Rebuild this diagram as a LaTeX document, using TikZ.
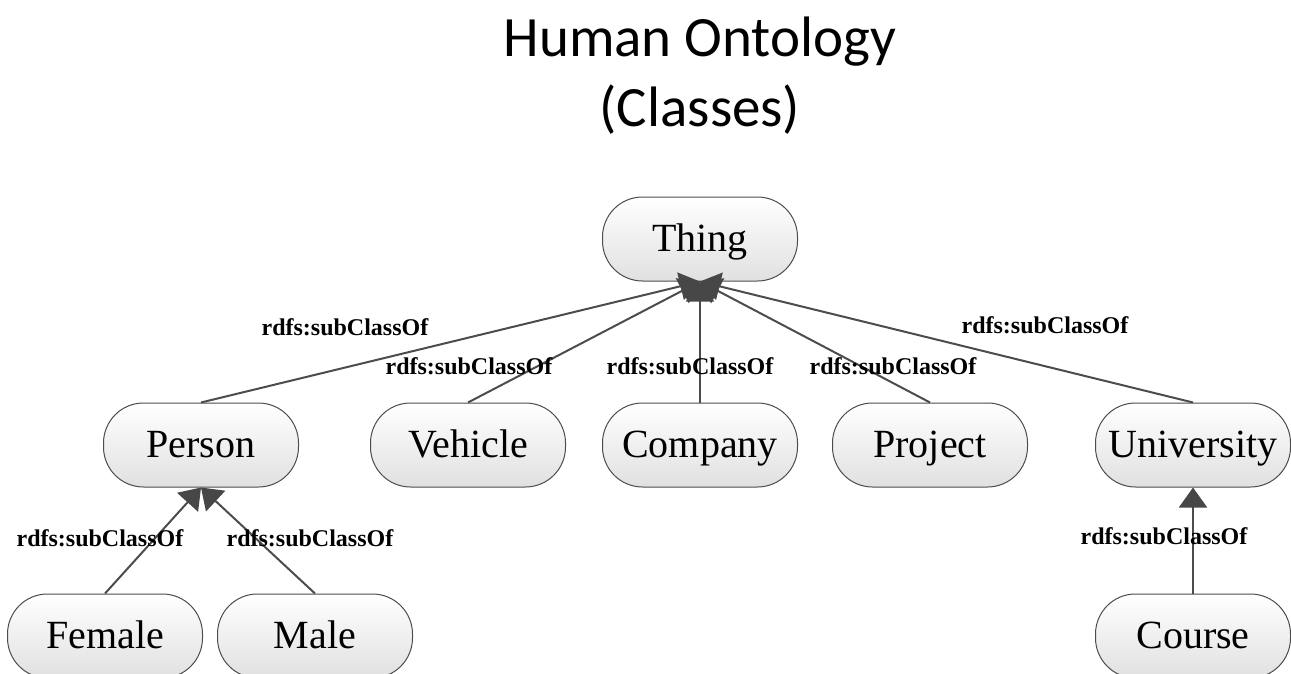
\documentclass[tikz,border=0pt]{standalone}
\usepackage{fontspec}
\setmainfont{Liberation Serif}
\newfontfamily\titlefont{Carlito}
\usetikzlibrary{arrows.meta}

\tikzset{
  cls/.style={draw=black!70, line width=1pt, rounded corners=40pt,
    top color=white, bottom color=black!12, minimum width=195pt,
    minimum height=84pt, inner sep=0pt, text height=30pt, text depth=6pt,
    font=\fontsize{40}{46}\selectfont},
  sub/.style={draw=black!70, line width=2pt,
    -{Triangle[length=20pt,width=28pt,fill=black!72,color=black!72]}},
  lbl/.style={font=\bfseries\fontsize{24}{28}\selectfont, inner sep=0pt}
}

\begin{document}
\begin{tikzpicture}[x=1pt,y=-1pt]
\useasboundingbox (0,0) rectangle (1291,674);
\clip (0,0) rectangle (1291,674);

% title
\node[font=\titlefont\fontsize{57}{70}\selectfont, align=center, anchor=north]
  (title) at (700,13) {Human Ontology\\(Classes)};

% classes
\node[cls] (thing)   at (700,239) {Thing};
\node[cls] (person)  at (201,445) {Person};
\node[cls] (vehicle) at (468,445) {Vehicle};
\node[cls] (company) at (700,445) {Company};
\node[cls] (project) at (930,445) {Project};
\node[cls] (univ)    at (1193,445) {University};
\node[cls] (female)  at (105,636) {Female};
\node[cls] (male)    at (315,636) {Male};
\node[cls] (course)  at (1193,636) {Course};

% subclass links
\draw[sub] (person.north)  -- (thing.south);
\draw[sub] (vehicle.north) -- (thing.south);
\draw[sub] (company.north) -- (thing.south);
\draw[sub] (project.north) -- (thing.south);
\draw[sub] (univ.north)    -- (thing.south);
\draw[sub] (female.north)  -- (person.south);
\draw[sub] (male.north)    -- (person.south);
\draw[sub] (course.north)  -- (univ.south);

% link labels
\node[lbl] (l1) at (345,327) {rdfs:subClassOf};
\node[lbl] (l2) at (469,366) {rdfs:subClassOf};
\node[lbl] (l3) at (690,366) {rdfs:subClassOf};
\node[lbl] (l4) at (893,366) {rdfs:subClassOf};
\node[lbl] (l5) at (1045,325) {rdfs:subClassOf};
\node[lbl] (l6) at (100,538) {rdfs:subClassOf};
\node[lbl] (l7) at (310,538) {rdfs:subClassOf};
\node[lbl] (l8) at (1164,536) {rdfs:subClassOf};
\end{tikzpicture}
\end{document}
